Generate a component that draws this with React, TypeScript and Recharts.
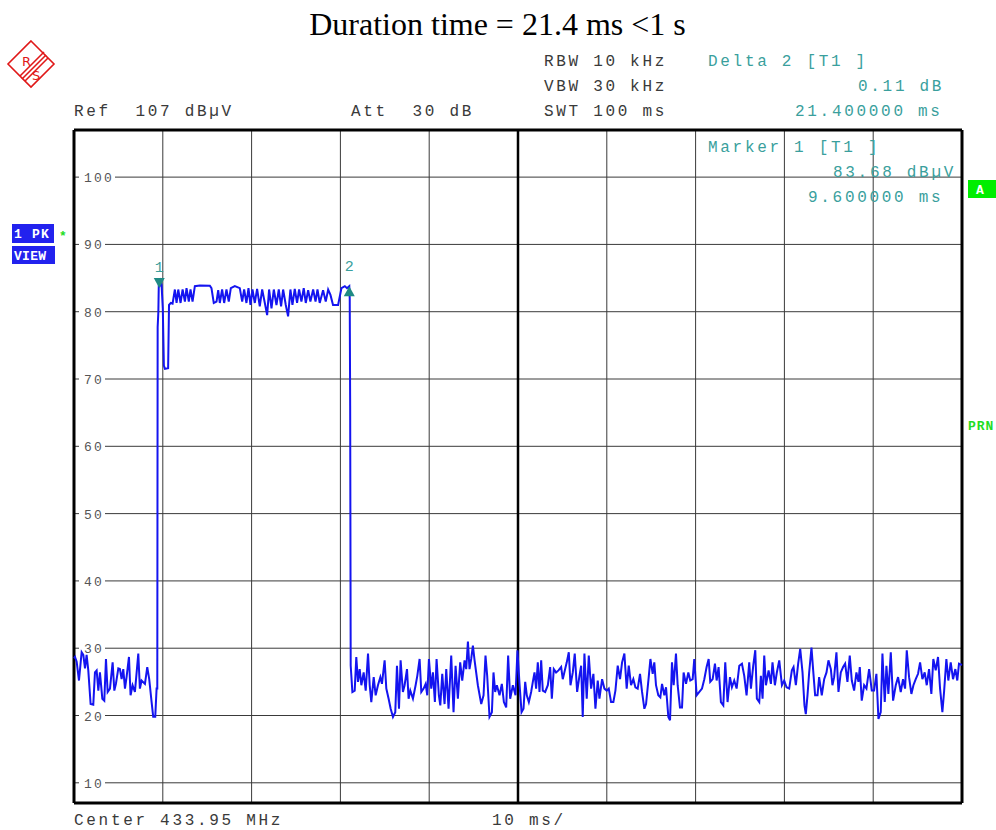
import { LineChart, Line, XAxis, YAxis, CartesianGrid, ReferenceLine, ReferenceDot } from "recharts";

// trace samples: [time ms, level dBµV]
const preNoise: [number, number][] = [
  [0, 28.5], [0.11, 28.7], [0.3, 28], [0.56, 25.2], [0.86, 29.4], [1.05, 29], [1.24, 27],
  [1.42, 29], [1.61, 26.7], [1.87, 21.7], [2.17, 21.6], [2.36, 26.4], [2.55, 26.7], [2.74, 23.7],
  [2.92, 26.4], [3.19, 22.5], [3.41, 22.2], [3.6, 28.4], [3.79, 23.5], [4.05, 24], [4.35, 27.9],
  [4.54, 23.7], [4.72, 24.7], [4.99, 27], [5.17, 26.9], [5.36, 25.4], [5.55, 26.9], [5.74, 24],
  [5.92, 25.7], [6.19, 28.7], [6.37, 23], [6.6, 24.5], [6.86, 23.5], [7.24, 29.2], [7.42, 24],
  [7.61, 25.2], [7.99, 24.7], [8.25, 27.2], [8.47, 25.4], [8.74, 22], [8.92, 19.8], [9.15, 19.8],
  [9.3, 24],
];

const pulseTop: [number, number][] = [
  [9.38, 24], [9.42, 77.7], [9.5, 80], [9.55, 84.2], [9.6, 83.68], [9.75, 84.5], [9.86, 84],
  [10.0, 80.5], [10.12, 72], [10.24, 71.5], [10.6, 71.6], [10.7, 81], [10.9, 81.3], [11.1, 81.2],
  [11.36, 83.3], [11.55, 81.3], [11.74, 83.3], [12.0, 81.3], [12.23, 83.3], [12.49, 81.5],
  [12.67, 83.5], [12.93, 81.5], [13.12, 83.3], [13.35, 81.5], [13.61, 83.8], [14.17, 83.9],
  [15.3, 83.85], [15.48, 83.5], [15.74, 81.3], [16.05, 81.5], [16.24, 83.2], [16.42, 81.3],
  [16.68, 83.3], [16.91, 81.3], [17.17, 83.3], [17.43, 81.5], [17.66, 83.5], [18.11, 83.8],
  [18.67, 83.5], [18.94, 81.5], [19.16, 83.3], [19.42, 81.3], [19.65, 83.5], [19.87, 81],
  [20.1, 83.3], [20.36, 81.3], [20.62, 83.4], [20.92, 80.8], [21.19, 83.3], [21.49, 81.3],
  [21.75, 79.5], [21.97, 83.3], [22.24, 80.5], [22.5, 83.3], [22.8, 81], [23.06, 83.3],
  [23.32, 80.8], [23.55, 83.3], [23.85, 81], [24.11, 79.3], [24.37, 83.3], [24.6, 81],
  [24.86, 83.4], [25.12, 81.3], [25.35, 83.3], [25.61, 81.5], [25.87, 83.5], [26.1, 81.3],
  [26.37, 83.2], [26.62, 81.5], [26.93, 83.3], [27.2, 81.5], [27.42, 83.3], [27.67, 81.3],
  [28.05, 83.2], [28.35, 81.5], [28.62, 83.3], [28.88, 82.5], [29.17, 81], [29.74, 81],
  [30.12, 83.5], [30.5, 83.8], [30.74, 83.5], [31.0, 83.79], [31.05, 82], [31.1, 66],
];

const postNoise: [number, number][] = [
  [31.16, 27.4], [31.35, 23.5], [31.61, 23.7], [31.79, 28.7], [31.98, 25], [32.17, 26.9],
  [32.36, 24.5], [32.62, 26.4], [32.85, 23.7], [33.11, 29.2], [33.3, 24.5], [33.48, 22],
  [33.75, 25.7], [33.97, 23], [34.23, 24.5], [34.5, 25.7], [34.68, 24.7], [34.98, 28.2],
  [35.17, 24], [35.43, 22.5], [35.66, 21], [35.92, 19.8], [36.18, 20.5], [36.37, 27.4],
  [36.6, 21], [36.78, 28.2], [37.04, 23.5], [37.23, 24.5], [37.5, 26.9], [37.68, 22.5],
  [37.87, 23.7], [38.17, 22.5], [38.47, 24.5], [38.66, 25.9], [38.92, 28.4], [39.11, 23.5],
  [39.37, 24], [39.6, 24.7], [39.78, 23], [39.97, 28.4], [40.23, 24], [40.42, 26.4],
  [40.64, 22], [40.83, 28.4], [41.09, 23], [41.25, 21.5], [41.47, 26.2], [41.73, 21.7],
  [41.92, 26.9], [42.18, 21], [42.48, 28.9], [42.74, 20.5], [42.97, 27.4], [43.23, 22.5],
  [43.49, 27.9], [43.72, 25.2], [43.98, 28.2], [44.17, 26.9], [44.36, 31], [44.54, 26.9],
  [44.73, 28.4], [44.92, 30.4], [45.11, 28.2], [45.48, 24.5], [45.86, 21.7], [46.12, 23],
  [46.34, 28.9], [46.53, 25.9], [46.79, 19.8], [47.06, 20.5], [47.24, 26.4], [47.43, 23.5],
  [47.62, 24.5], [47.92, 23], [48.18, 24.7], [48.41, 22], [48.67, 21.2], [48.89, 28.9],
  [49.12, 22.5], [49.42, 24.5], [49.72, 23], [49.94, 29.7], [50.17, 24.7], [50.4, 20.5],
  [50.62, 21], [50.81, 25], [50.99, 23], [51.22, 22], [51.48, 23.5], [51.67, 25], [51.86, 26.4],
  [52.04, 24], [52.23, 27.9], [52.42, 23.5], [52.61, 28.2], [52.79, 23.7], [53.06, 23.5],
  [53.36, 24.5], [53.62, 27.2], [53.81, 22.5], [54.03, 26.9], [54.29, 26.4], [54.56, 26.7],
  [54.86, 27.2], [55.04, 25.4], [55.31, 26.9], [55.49, 27.9], [55.72, 29.4], [55.91, 24.5],
  [56.17, 26.4], [56.39, 29.2], [56.66, 23.5], [56.92, 25.9], [57.11, 27.4], [57.29, 19.8],
  [57.48, 29.2], [57.74, 22.5], [57.97, 28.9], [58.23, 24], [58.49, 26.2], [58.72, 21],
  [58.98, 25.2], [59.17, 22.5], [59.47, 25.4], [59.73, 24], [59.99, 23.7], [60.22, 24],
  [60.48, 22], [60.74, 22], [60.97, 23.7], [61.23, 27.4], [61.49, 25.4], [61.72, 27.9],
  [61.98, 29.2], [62.24, 24], [62.47, 27.4], [62.73, 24.5], [62.99, 25.4], [63.22, 24.2],
  [63.48, 24], [63.74, 26.2], [63.97, 23.5], [64.23, 21], [64.42, 21.7], [64.72, 25.7],
  [64.91, 28.4], [65.17, 26.2], [65.35, 27.9], [65.54, 24.5], [65.8, 23], [66.03, 22.7],
  [66.22, 24.7], [66.48, 23], [66.67, 24.2], [66.93, 19.8], [67.12, 19.3], [67.34, 27.9],
  [67.53, 24.5], [67.79, 29.2], [67.98, 24.5], [68.24, 21.2], [68.47, 21.2], [68.65, 26.4],
  [68.92, 24.7], [69.18, 26.4], [69.4, 25.2], [69.67, 25.4], [69.85, 28.4], [70.12, 23],
  [70.42, 23.5], [70.72, 24], [70.98, 25.4], [71.24, 27.2], [71.47, 28.4], [71.65, 25],
  [71.92, 25.4], [72.18, 27.7], [72.37, 25.2], [72.59, 27.2], [72.85, 22], [73.12, 21.5],
  [73.34, 27.9], [73.6, 22], [73.87, 25.7], [74.09, 24.2], [74.35, 25.2], [74.62, 24],
  [74.92, 27.4], [75.22, 27.7], [75.48, 25.9], [75.74, 23], [76.04, 27.9], [76.23, 24],
  [76.49, 27.4], [76.72, 29.7], [76.9, 22.5], [77.17, 22], [77.35, 25.9], [77.54, 22.5],
  [77.73, 28.9], [77.92, 24.5], [78.22, 26.7], [78.48, 24.7], [78.66, 27.9], [78.93, 24.5],
  [79.15, 26.4], [79.42, 28.2], [79.72, 24.5], [79.98, 25.2], [80.24, 24.2], [80.54, 24],
  [80.84, 26.7], [81.03, 27.2], [81.29, 24.5], [81.55, 27.7], [81.78, 29.9], [82.04, 26.4],
  [82.26, 21.5], [82.41, 20.2], [82.6, 23], [82.79, 26.4], [83.05, 30.1], [83.24, 26.7],
  [83.46, 23], [83.73, 23], [83.91, 25.7], [84.21, 23], [84.48, 25.4], [84.74, 26.4],
  [84.96, 28.2], [85.23, 26.9], [85.41, 24.5], [85.6, 25.7], [85.86, 29.4], [86.09, 23.5],
  [86.35, 26.4], [86.61, 27.2], [86.84, 27.7], [87.1, 25], [87.36, 28.9], [87.59, 25.2],
  [87.85, 23.7], [88.11, 26.4], [88.34, 25], [88.49, 27.2], [88.71, 22.2], [88.98, 24.5],
  [89.24, 24], [89.54, 26.9], [89.84, 23.7], [90.1, 23.7], [90.36, 26.2], [90.59, 19.5],
  [90.85, 20.5], [91.04, 29.2], [91.3, 22], [91.49, 27.4], [91.71, 23.2], [91.98, 29.4],
  [92.24, 22.2], [92.54, 24.5], [92.8, 25.7], [93.1, 23.5], [93.36, 25.4], [93.59, 24],
  [93.78, 29.7], [94.04, 25.7], [94.3, 23.2], [94.53, 24.5], [94.79, 25.4], [95.05, 26.2],
  [95.28, 27.9], [95.54, 25.4], [95.8, 26.4], [96.03, 24.5], [96.29, 26.9], [96.55, 23.2],
  [96.77, 28.4], [97.04, 26.7], [97.3, 28.7], [97.53, 24], [97.79, 20.5], [97.98, 23.5],
  [98.24, 28.4], [98.46, 25.2], [98.73, 27.9], [98.99, 25.4], [99.25, 26.9], [99.47, 25.2],
  [99.66, 27.7], [100, 27.5],
];

const markerNames = ["1", "2"];
const markerTimes = [9.6, 31.0];
const markerLevels = [83.68, 83.79];

const levelTicks = [10, 20, 30, 40, 50, 60, 70, 80, 90, 100];
const timeTicks = [10, 20, 30, 40, 60, 70, 80, 90];

const trace = [...preNoise, ...pulseTop, ...postNoise].map(([t, v]) => ({ t, v }));

const mono = "'Liberation Mono', 'DejaVu Sans Mono', monospace";
const teal = "#3a9f9d";
const ink = "#3a3a3a";

function levelLabel(value: number) {
  return (props: any) => {
    const vb = props.viewBox || {};
    const x = vb.x ?? 74;
    const y = vb.y ?? 0;
    const label = String(value);
    return (
      <g>
        <rect x={x + 5} y={y - 7} width={label.length * 10 + 6} height={14} fill="#fff" />
        <text x={x + 10} y={y + 5} fontFamily={mono} fontSize={13} letterSpacing={2.2} fill="#555">
          {label}
        </text>
      </g>
    );
  };
}

function markerShape(name: string, down: boolean) {
  return (props: any) => {
    const { cx, cy } = props;
    const pts = down
      ? `${cx - 5.5},${cy - 9} ${cx + 5.5},${cy - 9} ${cx},${cy + 1}`
      : `${cx},${cy} ${cx - 5.5},${cy + 10} ${cx + 5.5},${cy + 10}`;
    return (
      <g>
        <polygon points={pts} fill="#1f8a84" />
        <text x={cx} y={cy - 15} textAnchor="middle" fontFamily={mono} fontSize={15} fill={teal}>
          {name}
        </text>
      </g>
    );
  };
}

function Logo() {
  return (
    <g stroke="#e01818" fill="none" strokeWidth={1.6}>
      <polygon points="31,41 54,64 31,87 8,64" />
      <line x1="44" y1="52" x2="20" y2="76" />
      <line x1="46" y1="55" x2="22" y2="79" />
      <line x1="48" y1="58" x2="25" y2="81" />
      <text x="22" y="66" stroke="none" fill="#e01818" fontFamily="'DejaVu Sans'" fontSize={13}>R</text>
      <text x="32" y="80" stroke="none" fill="#e01818" fontFamily="'DejaVu Sans'" fontSize={13}>S</text>
    </g>
  );
}

export default function App() {
  const hdr = { fontFamily: mono, fontSize: 16, letterSpacing: 2.7, style: { whiteSpace: "pre" as const } };
  return (
    <div style={{ position: "absolute", left: 0, top: 0, width: 996, height: 830, background: "#fff" }}>
      <LineChart width={996} height={830} data={trace} margin={{ top: 130, right: 34, bottom: 27, left: 74 }}>
        <CartesianGrid stroke="#3a3a3a" horizontalValues={levelTicks} verticalValues={timeTicks} />
        <XAxis dataKey="t" type="number" domain={[0, 100]} ticks={timeTicks} hide />
        <YAxis type="number" domain={[7, 107]} ticks={levelTicks} hide allowDataOverflow />
        {levelTicks.map((v) => (
          <ReferenceLine key={v} y={v} stroke="none" label={levelLabel(v)} />
        ))}
        <ReferenceLine x={50} stroke="#000" strokeWidth={2.5} />
        <ReferenceLine x={0} stroke="#000" strokeWidth={3} />
        <ReferenceLine x={100} stroke="#000" strokeWidth={3} />
        <ReferenceLine y={107} stroke="#000" strokeWidth={3} />
        <ReferenceLine y={7} stroke="#000" strokeWidth={3} />
        <Line
          dataKey="v"
          type="linear"
          stroke="#1414f0"
          strokeWidth={2}
          dot={false}
          isAnimationActive={false}
        />
        {markerNames.map((n, i) => (
          <ReferenceDot
            key={n}
            x={markerTimes[i]}
            y={markerLevels[i]}
            shape={markerShape(n, i === 0)}
          />
        ))}
      </LineChart>
      <svg width={996} height={830} style={{ position: "absolute", left: 0, top: 0, pointerEvents: "none" }}>
        <text x={497.5} y={35} textAnchor="middle" fontFamily="'Liberation Serif', serif" fontSize={32} fill="#000">
          Duration time = 21.4 ms &lt;1 s
        </text>
        <Logo />
        <text x={74} y={116} fill={ink} {...hdr}>Ref  107 dBµV</text>
        <text x={351} y={116} fill={ink} {...hdr}>Att  30 dB</text>
        <text x={544} y={66} fill={ink} {...hdr}>RBW 10 kHz</text>
        <text x={544} y={91} fill={ink} {...hdr}>VBW 30 kHz</text>
        <text x={544} y={116} fill={ink} {...hdr}>SWT 100 ms</text>
        <text x={708} y={66} fill={teal} {...hdr}>Delta 2 [T1 ]</text>
        <text x={858} y={91} fill={teal} {...hdr}>0.11 dB</text>
        <text x={795} y={116} fill={teal} {...hdr}>21.400000 ms</text>
        <text x={708} y={152} fill={teal} {...hdr}>Marker 1 [T1 ]</text>
        <text x={833} y={177} fill={teal} {...hdr}>83.68 dBµV</text>
        <text x={808} y={202} fill={teal} {...hdr}>9.600000 ms</text>
        <text x={74} y={825} fill={ink} {...hdr}>Center 433.95 MHz</text>
        <text x={492} y={825} fill={ink} {...hdr}>10 ms/</text>
        <rect x={12} y={224} width={42} height={19} fill="#2222ee" />
        <text x={14} y={238} fill="#fff" fontFamily={mono} fontWeight="bold" fontSize={13} letterSpacing={1.2} style={{ whiteSpace: "pre" }}>1 PK</text>
        <rect x={12} y={246} width={43} height={18} fill="#2222ee" />
        <text x={14} y={260} fill="#fff" fontFamily={mono} fontWeight="bold" fontSize={13} letterSpacing={0.3}>VIEW</text>
        <text x={59} y={240} fill="#22dd22" fontFamily={mono} fontWeight="bold" fontSize={13}>*</text>
        <rect x={968} y={180} width={28} height={18} fill="#00ee00" />
        <text x={976} y={194} fill="#fff" fontFamily={mono} fontWeight="bold" fontSize={13}>A</text>
        <text x={968} y={430} fill="#22dd22" fontFamily={mono} fontWeight="bold" fontSize={13} letterSpacing={1}>PRN</text>
      </svg>
    </div>
  );
}
